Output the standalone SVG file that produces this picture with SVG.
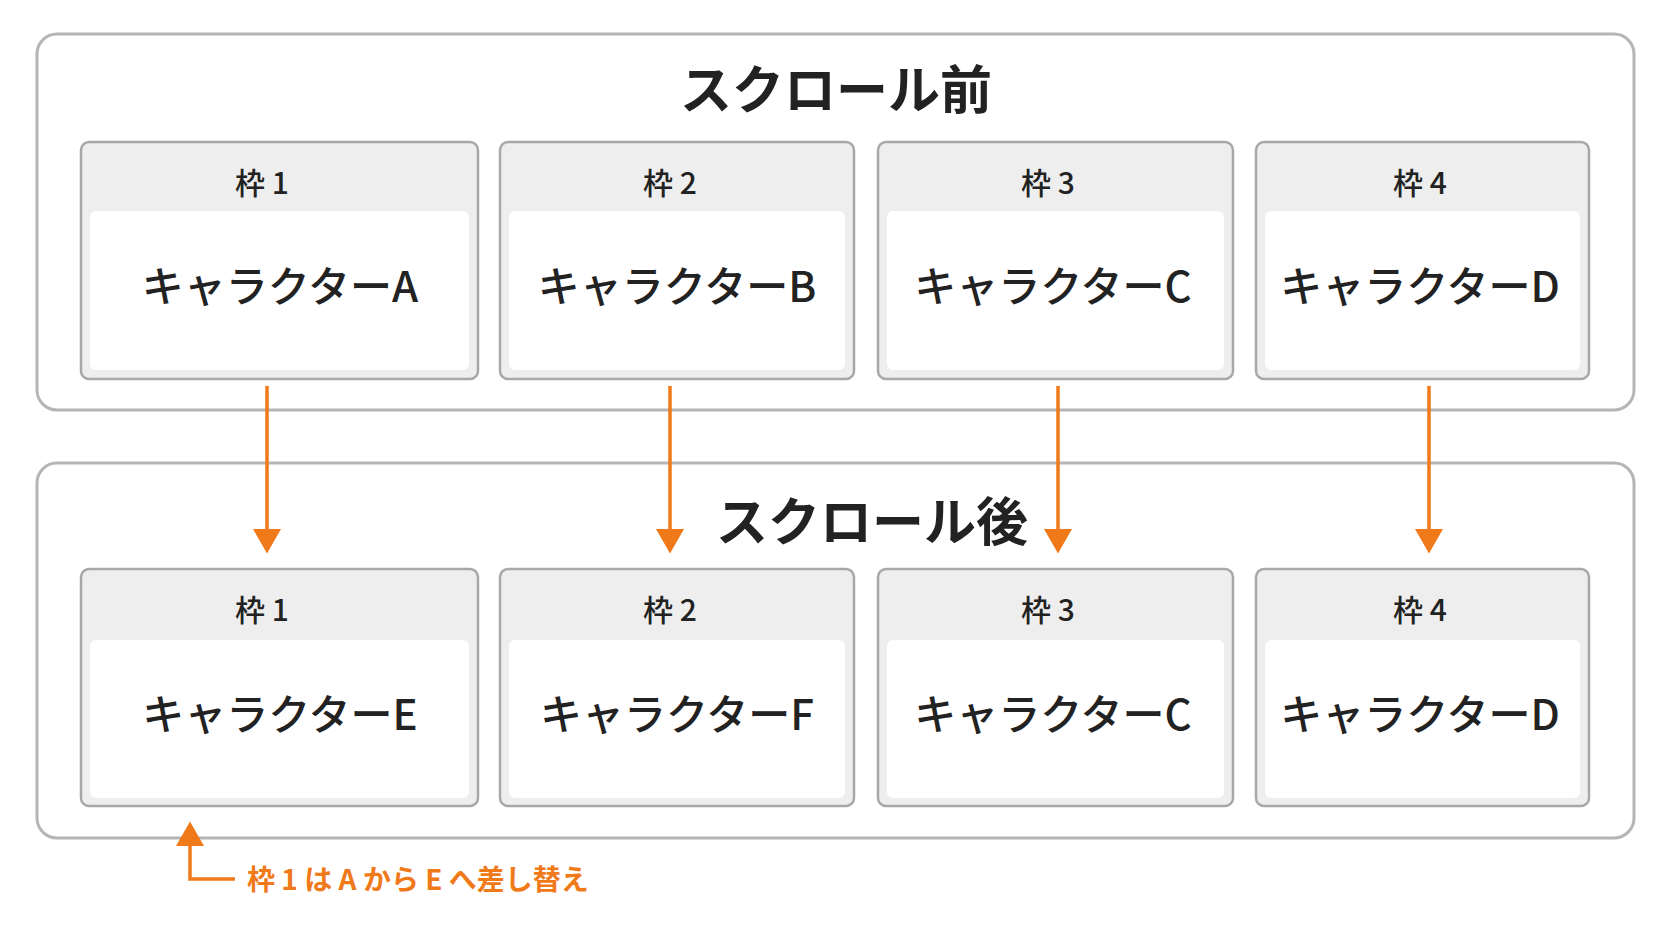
<svg xmlns="http://www.w3.org/2000/svg" width="1672" height="941" viewBox="0 0 1672 941">
<style>
text{font-family:"Noto Sans CJK JP","Noto Sans",sans-serif;text-anchor:middle;dominant-baseline:central;fill:#222}
.panel{fill:#fff;stroke:#b5b5b5;stroke-width:3}
.card{fill:#eeeeee;stroke:#a8a8a8;stroke-width:2.5}
.inner{fill:#fff}
.title{font-size:52px;font-weight:700}
.lbl{font-size:30px;font-weight:500}
.ch{font-size:42px;font-weight:500}
.arr{stroke:#F07A1A;stroke-width:3.5;fill:none}
</style>
<defs><marker id="ah" markerWidth="8" markerHeight="8" refX="6" refY="4" orient="auto" markerUnits="strokeWidth"><path d="M0,0L7,4L0,8z" fill="#F07A1A"/></marker></defs>
<rect width="1672" height="941" fill="#fff"/>
<g id="before"><rect class="panel" x="37" y="34" width="1597" height="376" rx="20"/><text class="title" x="836" y="86">スクロール前</text></g>
<g id="after"><rect class="panel" x="37" y="463" width="1597" height="375" rx="20"/><text class="title" x="872" y="518">スクロール後</text></g>
<g id="b1"><rect class="card" x="81" y="142" width="397" height="237" rx="8"/><rect class="inner" x="90" y="211" width="379" height="159" rx="6"/><text class="lbl" x="262" y="181">枠 1</text><text class="ch" x="280" y="283">キャラクターA</text></g>
<g id="b2"><rect class="card" x="500" y="142" width="354" height="237" rx="8"/><rect class="inner" x="509" y="211" width="336" height="159" rx="6"/><text class="lbl" x="670" y="181">枠 2</text><text class="ch" x="677" y="283">キャラクターB</text></g>
<g id="b3"><rect class="card" x="878" y="142" width="355" height="237" rx="8"/><rect class="inner" x="887" y="211" width="337" height="159" rx="6"/><text class="lbl" x="1048" y="181">枠 3</text><text class="ch" x="1053" y="283">キャラクターC</text></g>
<g id="b4"><rect class="card" x="1256" y="142" width="333" height="237" rx="8"/><rect class="inner" x="1265" y="211" width="315" height="159" rx="6"/><text class="lbl" x="1420" y="181">枠 4</text><text class="ch" x="1420" y="283">キャラクターD</text></g>
<g id="a1"><rect class="card" x="81" y="569" width="397" height="237" rx="8"/><rect class="inner" x="90" y="640" width="379" height="158" rx="6"/><text class="lbl" x="262" y="608">枠 1</text><text class="ch" x="280" y="711">キャラクターE</text></g>
<g id="a2"><rect class="card" x="500" y="569" width="354" height="237" rx="8"/><rect class="inner" x="509" y="640" width="336" height="158" rx="6"/><text class="lbl" x="670" y="608">枠 2</text><text class="ch" x="677" y="711">キャラクターF</text></g>
<g id="a3"><rect class="card" x="878" y="569" width="355" height="237" rx="8"/><rect class="inner" x="887" y="640" width="337" height="158" rx="6"/><text class="lbl" x="1048" y="608">枠 3</text><text class="ch" x="1053" y="711">キャラクターC</text></g>
<g id="a4"><rect class="card" x="1256" y="569" width="333" height="237" rx="8"/><rect class="inner" x="1265" y="640" width="315" height="158" rx="6"/><text class="lbl" x="1420" y="608">枠 4</text><text class="ch" x="1420" y="711">キャラクターD</text></g>
<g id="connectors">
<path class="arr" d="M267,386V550" marker-end="url(#ah)"/>
<path class="arr" d="M670,386V550" marker-end="url(#ah)"/>
<path class="arr" d="M1058,386V550" marker-end="url(#ah)"/>
<path class="arr" d="M1429,386V550" marker-end="url(#ah)"/>
<path class="arr" d="M235,879H190V825" marker-end="url(#ah)"/>
</g>
<g id="note"><text x="247" y="878" style="text-anchor:start;font-size:28px;font-weight:700;fill:#F07A1A">枠 1 は A から E へ差し替え</text></g>
</svg>
